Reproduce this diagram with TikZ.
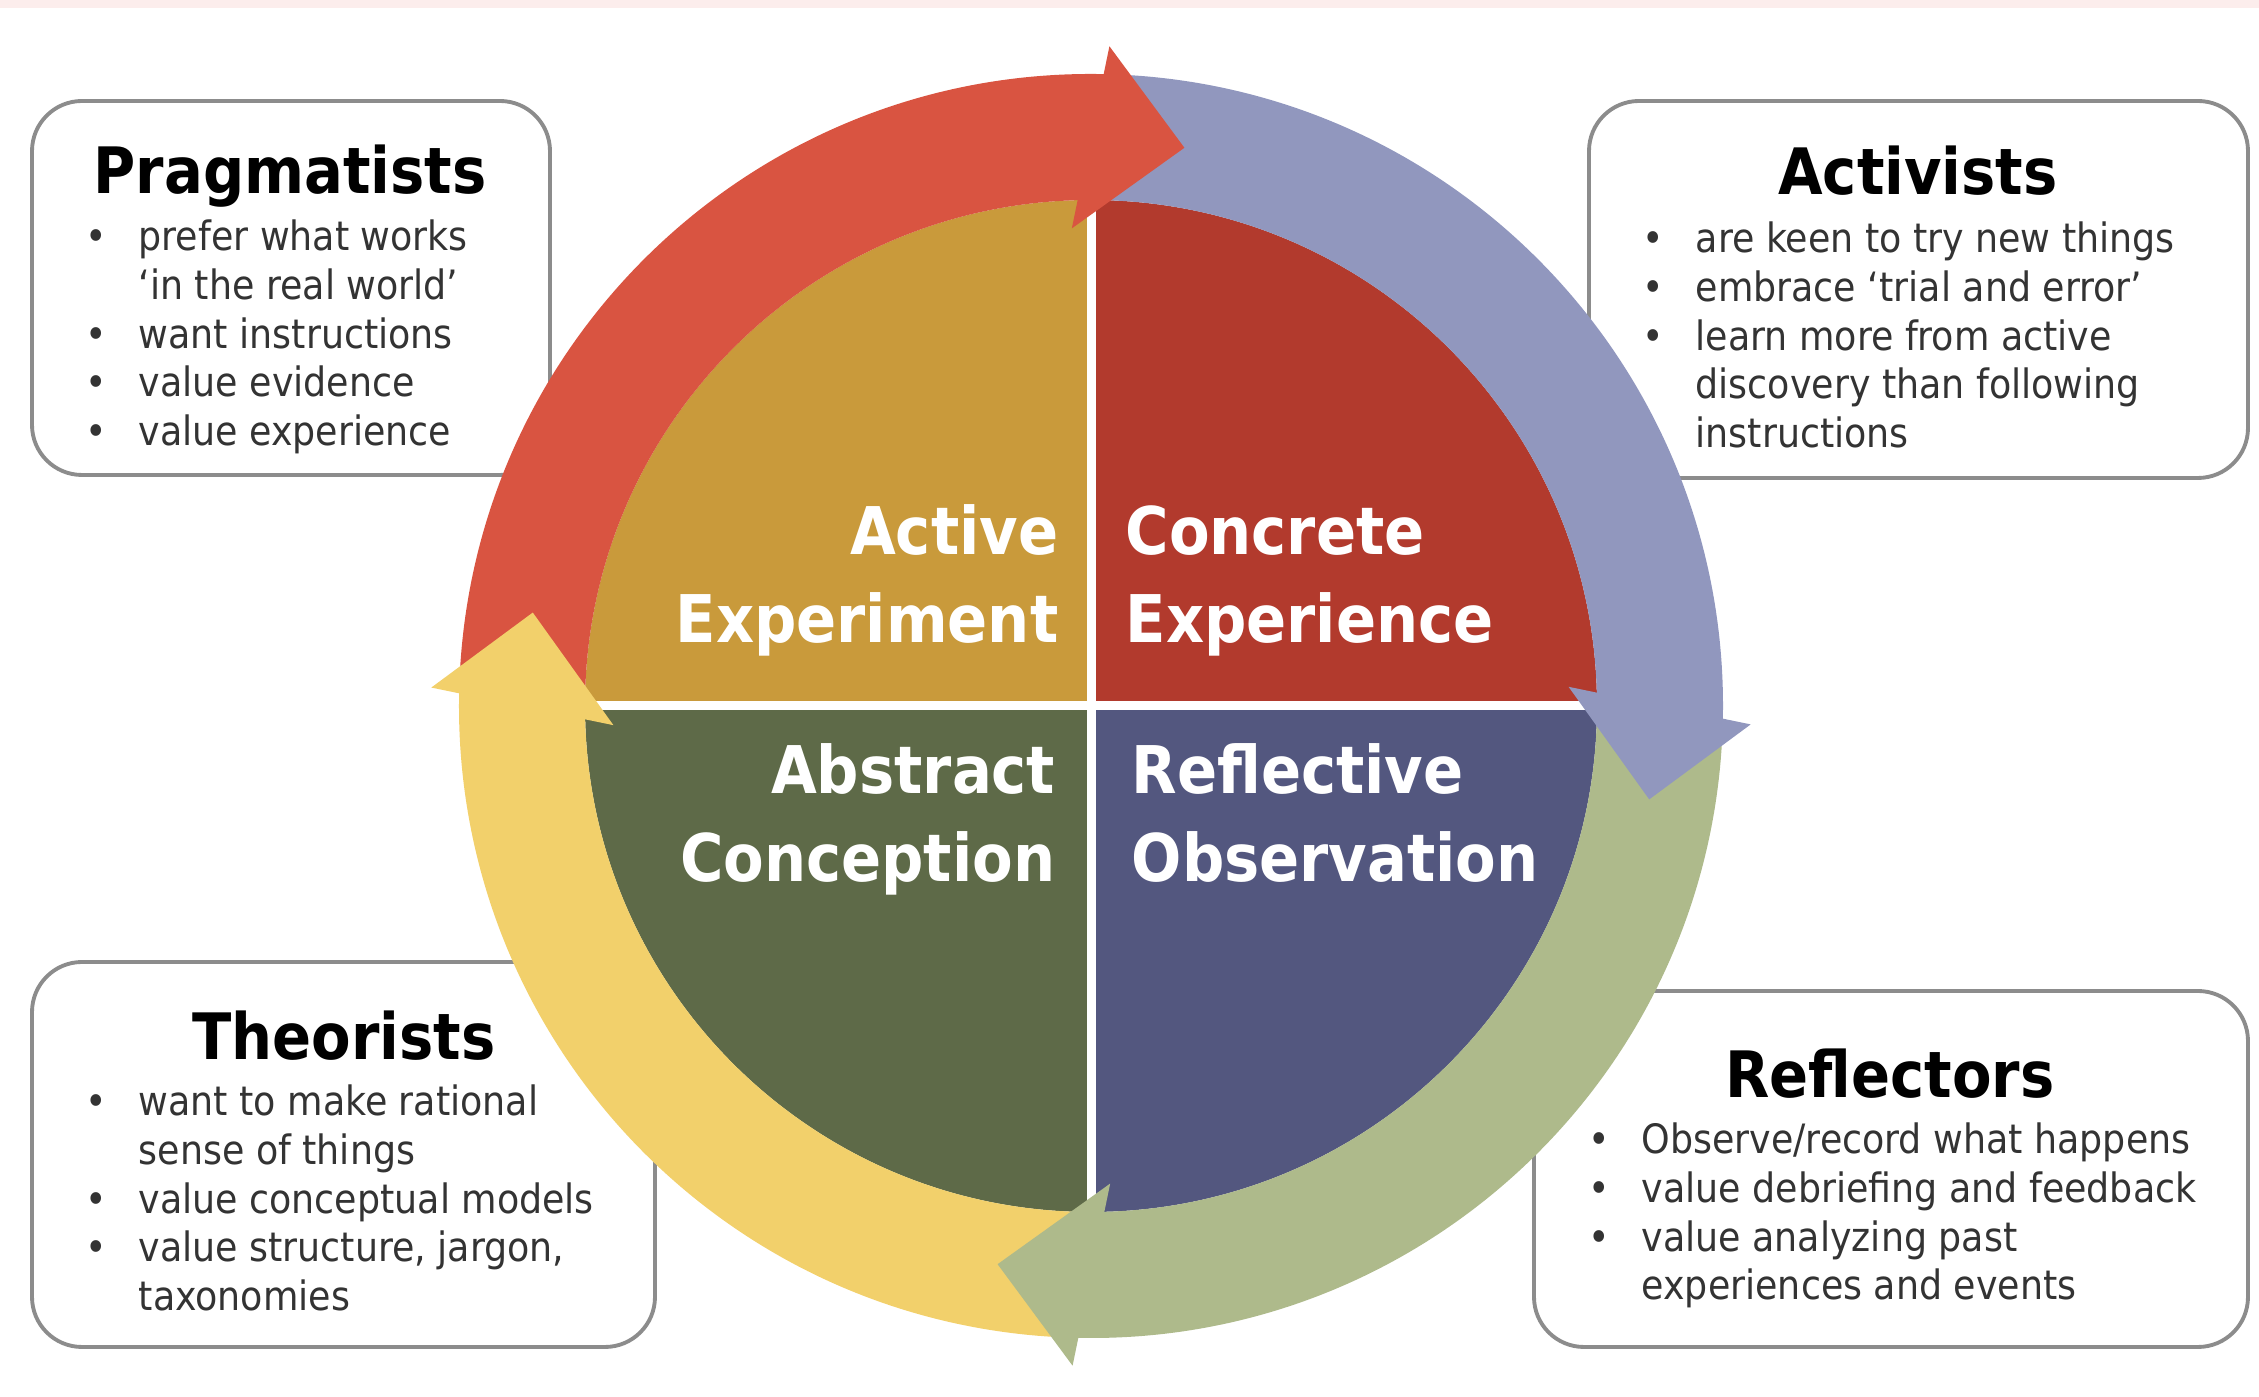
\documentclass[tikz,border=0pt]{standalone}
\usepackage{fontspec}
\setmainfont{DejaVu Sans Condensed}
\usepackage{tikz}
\usetikzlibrary{positioning}

\definecolor{arrred}{HTML}{D95441}
\definecolor{arrblue}{HTML}{9197BE}
\definecolor{arrgreen}{HTML}{AEBA8B}
\definecolor{arryellow}{HTML}{F2D06B}
\definecolor{quadae}{HTML}{C99A3B}
\definecolor{quadce}{HTML}{B23A2D}
\definecolor{quadac}{HTML}{5E6A48}
\definecolor{quadro}{HTML}{53577F}
\definecolor{boxgray}{HTML}{8C8C8C}
\definecolor{textgray}{HTML}{333333}
\definecolor{pinkbar}{HTML}{FCEDEC}

\begin{document}
\begin{tikzpicture}[x=0.01cm,y=0.01cm,
  box/.style={draw=boxgray,line width=1.1pt,fill=white,rounded corners=0.5cm},
  title/.style={font=\fontsize{18.2}{22}\selectfont\bfseries,text=black,anchor=base,inner sep=0pt},
  list/.style={font=\fontsize{11.5}{13.8}\selectfont,text=textgray,anchor=base west,inner sep=0pt},
  quad/.style={font=\fontsize{18.7}{25}\selectfont\bfseries,text=white,inner sep=0pt}]

\useasboundingbox (0,0) rectangle (2259,1397);
\fill[pinkbar] (0,1389) rectangle (2259,1397);

\draw[box] (32,922) rectangle (550,1296);
\draw[box] (1589,919) rectangle (2248,1296);
\draw[box] (32,50) rectangle (655,435);
\draw[box] (1534,50) rectangle (2248,406);

\node[title] (prag) at (290,1203) {Pragmatists};
\node[list] (pragl) at (85,1146) {\begin{tabular}[t]{@{}p{0.53cm}@{}l@{}}
  \textbullet & prefer what works\\ & ‘in the real world’\\
  \textbullet & want instructions\\ \textbullet & value evidence\\
  \textbullet & value experience\end{tabular}};

\node[title] (act) at (1918,1202) {Activists};
\node[list] (actl) at (1642,1144) {\begin{tabular}[t]{@{}p{0.53cm}@{}l@{}}
  \textbullet & are keen to try new things\\ \textbullet & embrace ‘trial and error’\\
  \textbullet & learn more from active\\ & discovery than following\\
  & instructions\end{tabular}};

\node[title] (theo) at (344,337) {Theorists};
\node[list] (theol) at (85,281) {\begin{tabular}[t]{@{}p{0.53cm}@{}l@{}}
  \textbullet & want to make rational\\ & sense of things\\
  \textbullet & value conceptual models\\ \textbullet & value structure, jargon,\\
  & taxonomies\end{tabular}};

\node[title] (refl) at (1890,299) {Reflectors};
\node[list] (refll) at (1588,243) {\begin{tabular}[t]{@{}p{0.53cm}@{}l@{}}
  \textbullet & Observe/record what happens\\ \textbullet & value debriefing and feedback\\
  \textbullet & value analyzing past\\ & experiences and events\end{tabular}};

\begin{scope}[shift={(1091,691)}]
  \fill[quadae] (0,0) -- (180:506) arc[start angle=180,end angle=90,radius=506] -- cycle;
  \fill[quadce] (0,0) -- (90:506) arc[start angle=90,end angle=0,radius=506] -- cycle;
  \fill[quadro] (0,0) -- (0:506) arc[start angle=0,end angle=-90,radius=506] -- cycle;
  \fill[quadac] (0,0) -- (-90:506) arc[start angle=-90,end angle=-180,radius=506] -- cycle;
  \draw[white,line width=0.09cm] (-506,0) -- (506,0) (0,-506) -- (0,506);

  \foreach \s/\c in {180/arrred,90/arrblue,0/arrgreen,-90/arryellow}
    \fill[\c] (\s-2:632) arc[start angle=\s-2,end angle=\s-92,radius=632]
      -- (\s-89.3:506) arc[start angle=\s-89.3,end angle=\s+0.7,radius=506] -- cycle;
  \foreach \s/\c in {180/arrred,90/arrblue,0/arrgreen,-90/arryellow}
    \fill[\c] (\s-91.6:660) -- (\s-99.5:566) -- (\s-87.7:478) -- cycle;
\end{scope}

\node[quad,anchor=base east] (ae) at (1059,842) {\begin{tabular}[t]{@{}r@{}}Active\\Experiment\end{tabular}};
\node[quad,anchor=base west] (ce) at (1125,842) {\begin{tabular}[t]{@{}l@{}}Concrete\\Experience\end{tabular}};
\node[quad,anchor=base east] (ac) at (1056,603) {\begin{tabular}[t]{@{}r@{}}Abstract\\Conception\end{tabular}};
\node[quad,anchor=base west] (ro) at (1131,603) {\begin{tabular}[t]{@{}l@{}}Reflective\\Observation\end{tabular}};
\end{tikzpicture}
\end{document}
